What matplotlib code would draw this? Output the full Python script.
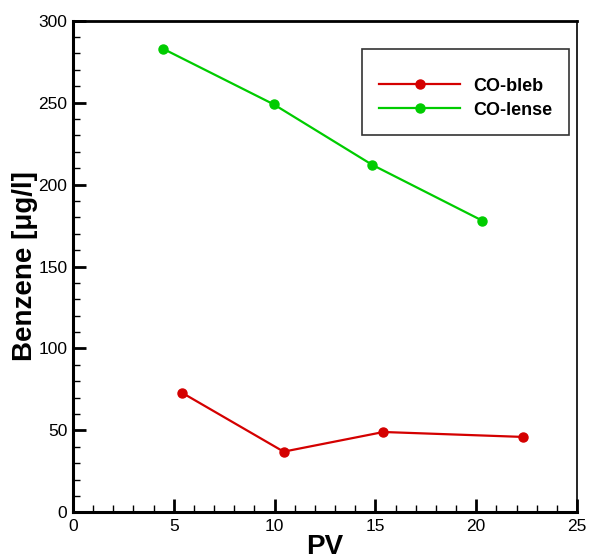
import matplotlib.pyplot as plt
from matplotlib.patches import Rectangle
from matplotlib.ticker import MultipleLocator

plt.rcParams['font.family'] = ['Liberation Sans', 'DejaVu Sans']

# CO-bleb and CO-lense benzene concentrations vs pore volumes
pv_bleb = [5.4, 10.45, 15.4, 22.3]
benz_bleb = [73, 37, 49, 46]
pv_lense = [4.45, 9.95, 14.85, 20.3]
benz_lense = [283, 249, 212, 178]

fig = plt.figure(figsize=(5.91, 5.60), dpi=100)
ax = fig.add_axes([0.1235, 0.0852, 0.8528, 0.8778])

ax.plot(pv_bleb, benz_bleb, color='#d40000', lw=1.6, marker='o', ms=6.5, label='CO-bleb')
ax.plot(pv_lense, benz_lense, color='#00cc00', lw=1.6, marker='o', ms=6.5, label='CO-lense')

ax.set_xlim(0, 25)
ax.set_ylim(0, 300)
ax.xaxis.set_major_locator(MultipleLocator(5))
ax.xaxis.set_minor_locator(MultipleLocator(1))
ax.yaxis.set_major_locator(MultipleLocator(50))
ax.yaxis.set_minor_locator(MultipleLocator(10))

ax.tick_params(which='both', direction='in', top=False, right=False, labelsize=12.5)
ax.tick_params(which='major', length=9.5, width=2)
ax.tick_params(which='minor', length=4.8, width=1)
ax.tick_params(axis='x', pad=5)
ax.tick_params(axis='y', pad=4)

ax.spines['left'].set_linewidth(2.2)
ax.spines['bottom'].set_linewidth(2.2)
ax.spines['top'].set_linewidth(2)
ax.spines['right'].set_linewidth(1.2)

ax.set_xlabel('PV', fontsize=20, fontweight='bold', labelpad=0)
ax.set_ylabel('Benzene [\u03bcg/l]', fontsize=20, fontweight='bold', labelpad=0)

# legend box drawn separately so the padding can be set freely
ax.add_patch(Rectangle((0.573, 0.7675), 0.411, 0.1745, transform=ax.transAxes,
                       facecolor='white', edgecolor='#333333', lw=1.2, zorder=4))
leg = ax.legend(loc='upper left', bbox_to_anchor=(0.607, 0.884), borderaxespad=0,
                prop={'weight': 'bold', 'size': 13}, frameon=False, borderpad=0,
                labelspacing=0.38, handlelength=4.5, handletextpad=0.72)
leg.set_zorder(5)

fig.savefig('out.png', dpi=100)
